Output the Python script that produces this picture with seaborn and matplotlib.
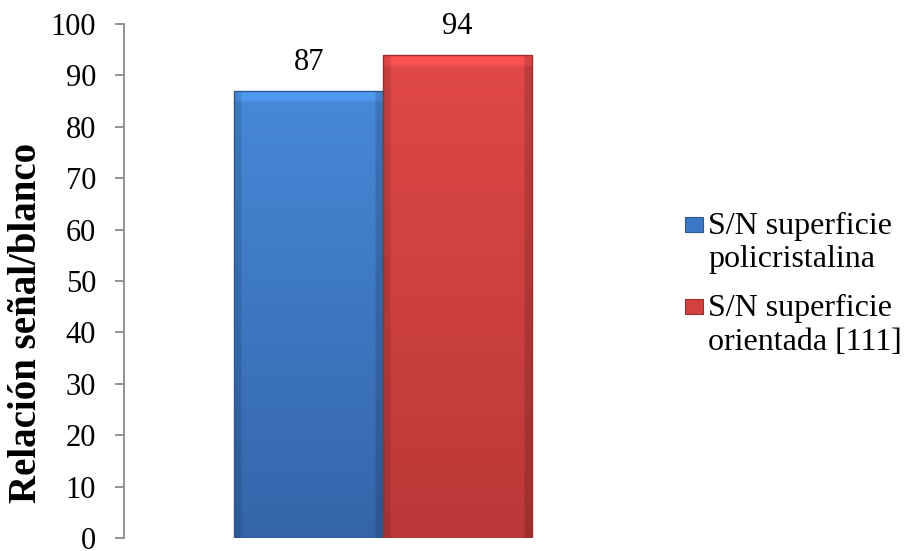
import matplotlib
matplotlib.use("Agg")
import numpy as np
import pandas as pd
import matplotlib.pyplot as plt
import seaborn as sns
from matplotlib.patches import Rectangle
from matplotlib.legend_handler import HandlerPatch
from matplotlib.colors import to_rgb

# ---- data ----
categories = ["Muestra"]
series_labels = ["S/N superficie\npolicristalina", "S/N superficie\norientada [111]"]
series_values = [87, 94]
y_ticks = [0, 10, 20, 30, 40, 50, 60, 70, 80, 90, 100]
y_label = "Relación señal/blanco"

# ---- styles ----
bar_colors = ["#3d78c6", "#d24040"]
top_colors = ["#4789d8", "#df4848"]
bottom_colors = ["#3465aa", "#bb3838"]
edge_colors = ["#2c5892", "#9e2e2e"]
FS = 22
FS_LEG = 23
FS_YLAB = 28

df = pd.DataFrame({
    "categoria": categories * len(series_labels),
    "serie": series_labels,
    "valor": series_values,
})

sns.set_theme(style="white")
plt.rcParams["font.family"] = ["Liberation Serif", "DejaVu Serif"]
plt.rcParams["font.size"] = FS
plt.rcParams["text.color"] = "black"
plt.rcParams["axes.labelcolor"] = "black"
plt.rcParams["ytick.color"] = "black"

W, H = 906, 551
fig = plt.figure(figsize=(W / 100, H / 100), dpi=100)
ax = fig.add_axes([124 / W, 1 - 538 / H, 518 / W, 514 / H])

sns.barplot(data=df, x="categoria", y="valor", hue="serie",
            hue_order=series_labels, palette=bar_colors, width=0.574,
            errorbar=None, legend=False, ax=ax, linewidth=1.0)

ax.set_ylim(0, 100)
xlim = (-0.5, 0.5)

# gradient / bevel fill clipped to each bar
for i, cont in enumerate(ax.containers):
    for p in cont.patches:
        x0, y0 = p.get_x(), p.get_y()
        w, h = p.get_width(), p.get_height()
        n = 200
        t = np.linspace(0, 1, n)[:, None, None]
        c_top = np.array(to_rgb(top_colors[i]))[None, None, :]
        c_bot = np.array(to_rgb(bottom_colors[i]))[None, None, :]
        grad = c_top * (1 - t) + c_bot * t
        grad = np.repeat(grad, 60, axis=1)
        sx = np.linspace(0, 1, 60)
        shade = np.ones(60)
        shade[sx < 0.04] = 0.88
        shade[sx > 0.96] = 0.85
        grad = grad * shade[None, :, None]
        grad[:5] = np.clip(grad[:5] * 1.12, 0, 1)
        im = ax.imshow(grad, extent=[x0, x0 + w, y0, y0 + h], origin="upper",
                       aspect="auto", zorder=p.get_zorder() - 0.01,
                       interpolation="bilinear")
        im.set_clip_path(p)
        p.set_facecolor("none")
        p.set_edgecolor(edge_colors[i])
    ax.bar_label(cont, labels=[f"{v:g}" for v in cont.datavalues],
                 padding=10, fontsize=FS, color="black")

ax.set_xlim(*xlim)
ax.set_ylim(0, 100)
ax.set_yticks(y_ticks)
ax.set_xticks([])
ax.set_xlabel("")
for s in ["top", "right", "bottom"]:
    ax.spines[s].set_visible(False)
ax.spines["left"].set_color("#8a8a8a")
ax.spines["left"].set_linewidth(1.3)
ax.tick_params(axis="y", left=True, direction="out", length=6.5, width=1.3,
               color="#8a8a8a", pad=13.5, labelsize=FS, labelcolor="black")

ax.set_ylabel(y_label, fontsize=FS_YLAB, fontweight="bold", color="black")
ax.yaxis.set_label_coords(-0.152, 0.418)

# legend: marker aligned with the first line of each entry
MARKER_Y_PT = 15.9


class FirstLineHandler(HandlerPatch):
    def create_artists(self, legend, orig_handle, xdescent, ydescent,
                       width, height, fontsize, trans):
        r = Rectangle((-xdescent, MARKER_Y_PT), width, 10.8,
                      facecolor=orig_handle.get_facecolor(),
                      edgecolor=orig_handle.get_edgecolor(), lw=0.8,
                      transform=trans)
        return [r]


handles = [Rectangle((0, 0), 1, 1, facecolor=bar_colors[i], edgecolor=edge_colors[i])
           for i in range(len(series_labels))]
fig.legend(handles, series_labels, loc="upper left",
           bbox_to_anchor=(685 / W, 1 - 212 / H), frameon=False,
           borderpad=0, borderaxespad=0, handlelength=0.56,
           handletextpad=0.16, labelspacing=0.62, fontsize=FS_LEG,
           labelcolor="black",
           handler_map={Rectangle: FirstLineHandler()})

fig.savefig("out.png", dpi=100, facecolor="white")
